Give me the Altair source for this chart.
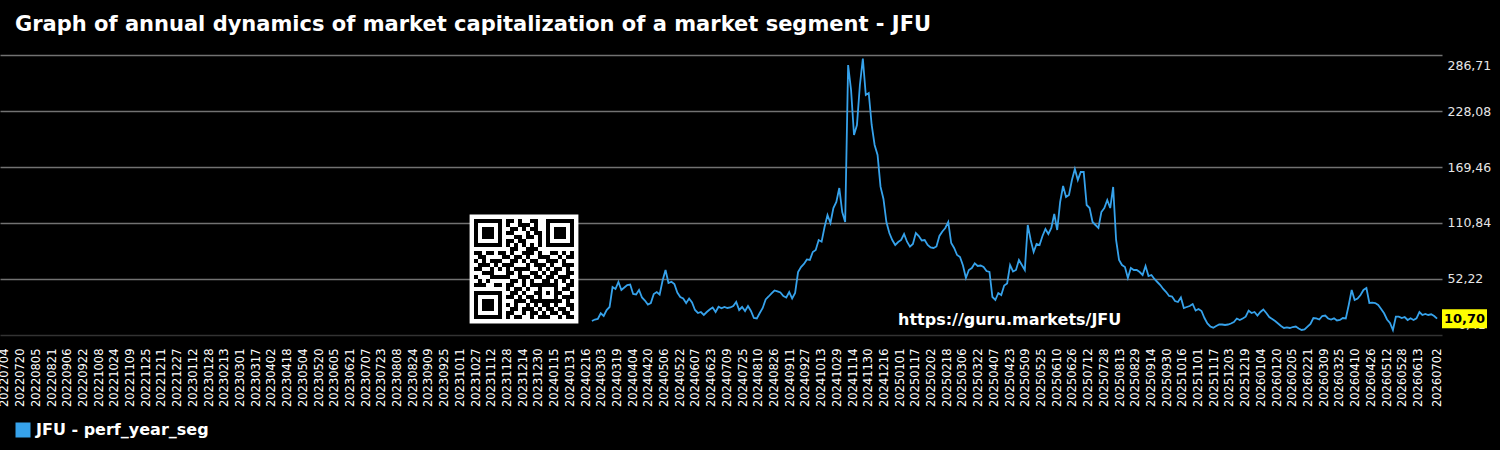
import altair as alt
import pandas as pd

TITLE = "Graph of annual dynamics of market capitalization of a market segment - JFU"
SERIES_NAME = "JFU - perf_year_seg"
WATERMARK = "https://guru.markets/JFU"
LINE_COLOR = "#36a2eb"

START_DATE = "2024-02-22"
STEP_DAYS = 3
VALUES = [
    8.25, 9.81, 10.34, 16.31, 13.48, 19.76, 22.90, 43.83, 41.75, 49.07,
    40.70, 43.30, 45.93, 46.46, 36.51, 35.99, 40.70, 32.85, 29.71, 25.52,
    27.09, 36.51, 38.60, 35.99, 50.64, 61.64, 48.02, 49.38, 46.98, 38.08,
    33.37, 31.80, 27.09, 31.80, 27.61, 19.76, 16.62, 17.67, 14.53, 17.67,
    20.29, 22.38, 17.67, 23.22, 21.55, 22.90, 21.86, 22.38, 23.95, 28.14,
    19.76, 22.90, 18.71, 23.95, 18.71, 11.39, 10.86, 16.62, 21.86, 30.76,
    33.90, 37.25, 40.18, 39.34, 38.08, 34.42, 32.85, 38.60, 31.80, 37.56,
    59.54, 64.78, 67.92, 72.64, 72.11, 80.49, 82.57, 93.04, 91.26, 106.65,
    119.21, 110.84, 126.54, 132.82, 147.48, 122.36, 111.89, 276.24, 250.07, 202.97,
    213.43, 255.31, 283.00, 244.84, 246.93, 213.43, 192.49, 182.03, 148.84, 135.96,
    111.89, 100.37, 93.04, 87.81, 90.95, 93.04, 99.32, 91.26, 86.02, 88.85,
    100.37, 97.23, 92.52, 93.04, 87.81, 85.19, 84.67, 86.24, 97.23, 101.94,
    105.60, 111.89, 89.90, 84.67, 77.34, 75.25, 66.35, 53.26, 61.64, 63.73,
    68.65, 65.82, 66.35, 64.78, 60.59, 59.54, 33.37, 30.23, 37.56, 35.47,
    45.41, 47.50, 66.87, 60.07, 61.64, 72.11, 66.87, 61.64, 108.75, 93.04,
    80.49, 88.85, 87.81, 97.23, 104.56, 99.32, 105.60, 120.26, 103.51, 132.82,
    149.57, 138.06, 140.15, 155.86, 167.37, 155.86, 164.23, 164.23, 129.69, 126.54,
    111.89, 108.75, 105.60, 122.36, 126.54, 134.92, 126.54, 148.53, 93.04, 72.11,
    66.87, 64.78, 53.26, 63.73, 61.64, 61.64, 59.54, 56.40, 65.82, 55.35,
    56.40, 52.21, 49.07, 45.93, 41.75, 38.60, 34.42, 33.90, 29.18, 28.14,
    32.85, 21.86, 22.90, 23.95, 26.04, 19.24, 20.81, 18.71, 11.39, 5.63,
    2.49, 1.23, 3.01, 4.58, 4.58, 4.06, 4.58, 5.63, 7.20, 10.86,
    9.29, 10.86, 12.74, 19.02, 16.62, 17.67, 13.96, 17.67, 20.29, 16.62,
    12.43, 10.34, 8.25, 5.63, 3.01, 0.92, 1.65, 0.92, 1.96, 2.49,
    0.39, -1.17, -0.65, 2.28, 5.11, 11.39, 11.08, 9.81, 13.48, 13.96,
    10.86, 9.81, 11.08, 8.77, 9.29, 11.39, 10.86, 25.01, 40.70, 30.23,
    31.80, 35.47, 40.70, 42.80, 27.09, 27.40, 27.09, 25.01, 20.81, 16.31,
    9.81, 6.15, -1.17, 12.74, 12.74, 11.39, 12.43, 9.29, 11.08, 9.29,
    11.08, 17.67, 14.53, 15.58, 14.53, 15.26, 13.48, 10.70,
]
LAST_VALUE = 10.70

Y_TICKS = [-6.41, 52.22, 110.84, 169.46, 228.08, 286.71]
X_DOMAIN = ["20220629", "20260707"]
X_TICK_LABELS = [
    "20220704", "20220720", "20220805", "20220821", "20220906", "20220922",
    "20221008", "20221024", "20221109", "20221125", "20221211", "20221227",
    "20230112", "20230128", "20230213", "20230301", "20230317", "20230402",
    "20230418", "20230504", "20230520", "20230605", "20230621", "20230707",
    "20230723", "20230808", "20230824", "20230909", "20230925", "20231011",
    "20231027", "20231112", "20231128", "20231214", "20231230",
    "20240115", "20240131", "20240216", "20240303", "20240319", "20240404",
    "20240420", "20240506", "20240522", "20240607", "20240623", "20240709",
    "20240725", "20240810", "20240826", "20240911", "20240927", "20241013",
    "20241029", "20241114", "20241130", "20241216",
    "20250101", "20250117", "20250202", "20250218", "20250306", "20250322",
    "20250407", "20250423", "20250509", "20250525", "20250610", "20250626",
    "20250712", "20250728", "20250813", "20250829", "20250914", "20250930",
    "20251016", "20251101", "20251117", "20251203", "20251219",
    "20260104", "20260120", "20260205", "20260221", "20260309", "20260325",
    "20260410", "20260426", "20260512", "20260528", "20260613", "20260702",
]

QR_ROWS = [
    "1111111011010011001111111",
    "1000001010011101001000001",
    "1011101001101011001011101",
    "1011101011000101101011101",
    "1011101000110110101011101",
    "1000001011011000101000001",
    "1111111010101010101111111",
    "0000000001100111000000000",
    "1101101101001110100110101",
    "0110000110110100111001011",
    "1010111001101011001110100",
    "0111010111000101110100111",
    "1100101010111100101011010",
    "0011100011010011010110011",
    "1000111110011101101101110",
    "0101000001101010011010101",
    "1110011011001011111110011",
    "0000000010110100100010110",
    "1111111001101001101011001",
    "1000001011010110100010111",
    "1011101000111011111111010",
    "1011101010100101011010011",
    "1011101001101110101101101",
    "1000001011001011010110110",
    "1111111010110010111001011",
]

FONT = "DejaVu Sans"


def dt(s):
    return alt.DateTime(year=int(s[:4]), month=int(s[4:6]), date=int(s[6:8]), utc=True)


dates = pd.date_range(START_DATE, periods=len(VALUES), freq=f"{STEP_DAYS}D").strftime("%Y-%m-%d")
df = pd.DataFrame({"date": list(dates), "value": VALUES, "series": SERIES_NAME})

last_df = pd.DataFrame({
    "value": [LAST_VALUE],
    "label": [f"{LAST_VALUE:.2f}".replace(".", ",")],
})

x_scale = alt.Scale(type="utc", domain=[dt(X_DOMAIN[0]), dt(X_DOMAIN[1])])
y_scale = alt.Scale(domain=[Y_TICKS[0], Y_TICKS[-1]], nice=False, zero=False)

x_axis = alt.Axis(
    values=[dt(s) for s in X_TICK_LABELS],
    format="%Y%m%d",
    labelAngle=-90,
    labelFontSize=11.5,
    labelColor="#ffffff",
    labelFont=FONT,
    labelOverlap=False,
    labelFlush=False,
    labelPadding=13,
    ticks=False,
    domain=False,
    grid=False,
    title=None,
)

y_axis = alt.Axis(
    orient="right",
    values=Y_TICKS,
    labelExpr="replace(format(datum.value, '.2f'), '.', ',')",
    labelFontSize=12.5,
    labelColor="#e6e6e6",
    labelFont=FONT,
    labelPadding=5,
    labelFlush=True,
    labelFlushOffset=-4,
    ticks=False,
    domain=False,
    grid=True,
    gridColor={"condition": {"test": "datum.value < 0", "value": "#333333"}, "value": "#727272"},
    gridWidth=1.7,
    title=None,
)

line = alt.Chart(df).mark_line(strokeWidth=1.8).encode(
    x=alt.X("date:T", scale=x_scale, axis=x_axis),
    y=alt.Y("value:Q", scale=y_scale, axis=y_axis),
    color=alt.Color(
        "series:N",
        scale=alt.Scale(range=[LINE_COLOR]),
        legend=alt.Legend(
            orient="none",
            legendX=15,
            legendY=367,
            title=None,
            padding=0,
            symbolType="square",
            symbolSize=225,
            symbolFillColor=LINE_COLOR,
            symbolStrokeColor=LINE_COLOR,
            symbolStrokeWidth=0,
            labelFont=FONT,
            labelFontSize=16,
            labelFontWeight="bold",
            labelColor="#ffffff",
            labelOffset=5,
            labelLimit=400,
        ),
    ),
)

watermark = alt.Chart(pd.DataFrame({"t": [WATERMARK]})).mark_text(
    font=FONT, fontSize=16, fontWeight="bold", color="#ffffff", align="left", baseline="middle"
).encode(x=alt.value(898), y=alt.value(265), text="t:N")

box = alt.Chart(last_df).mark_rect(color="#ffff00", height=19).encode(
    x=alt.value(1442), x2=alt.value(1487), y=alt.Y("value:Q", scale=y_scale)
)
box_text = alt.Chart(last_df).mark_text(
    font=FONT, fontSize=13, fontWeight="bold", color="#000000", align="center", baseline="middle"
).encode(x=alt.value(1464.5), y=alt.Y("value:Q", scale=y_scale), text="label:N")

main = alt.layer(line, watermark, box, box_text)

qr_cells = [
    {"c": c, "c2": c + 1, "r": r, "r2": r + 1}
    for r, row in enumerate(QR_ROWS)
    for c, ch in enumerate(row)
    if ch == "1"
]
n = len(QR_ROWS)
qx = alt.Scale(domain=[0, n], range=[474, 574], nice=False, zero=False)
qy = alt.Scale(domain=[0, n], range=[164, 264], nice=False, zero=False)
qr_bg = alt.Chart(pd.DataFrame([{"c": -1.1, "c2": n + 1.1, "r": -1.1, "r2": n + 1.1}])).mark_rect(
    color="#ffffff"
).encode(
    x=alt.X("c:Q", scale=qx, axis=None), x2="c2:Q",
    y=alt.Y("r:Q", scale=qy, axis=None), y2="r2:Q",
)
qr_fg = alt.Chart(pd.DataFrame(qr_cells)).mark_rect(color="#000000").encode(
    x=alt.X("c:Q", scale=qx, axis=None), x2="c2:Q",
    y=alt.Y("r:Q", scale=qy, axis=None), y2="r2:Q",
)
qr = alt.layer(qr_bg, qr_fg)

chart = alt.layer(main, qr).resolve_scale(x="independent", y="independent").properties(
    width=1442,
    height=280,
    background="#000000",
    padding={"left": 0, "top": 55, "right": 58, "bottom": 115},
    autosize=alt.AutoSizeParams(type="none"),
    title=alt.TitleParams(
        text=TITLE,
        anchor="start",
        frame="group",
        dx=15,
        dy=19,
        offset=22,
        baseline="alphabetic",
        font=FONT,
        fontSize=21,
        fontWeight="bold",
        color="#ffffff",
    ),
).configure_view(stroke=None)

chart.save("out.html", embed_options={"renderer": "svg", "actions": False})
